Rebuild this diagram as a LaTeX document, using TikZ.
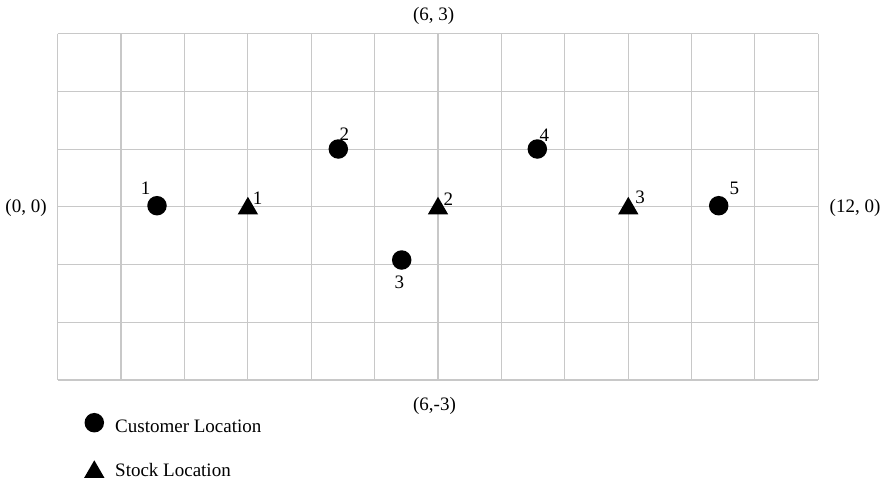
\documentclass[tikz,border=0pt]{standalone}
\usepackage{fontspec}
\setmainfont{Liberation Serif}
\usetikzlibrary{shapes.geometric}
\begin{document}
\begin{tikzpicture}[x=1pt,y=-1pt,
  every node/.style={font=\fontsize{19}{22}\selectfont, inner sep=0pt},
  gridline/.style={draw={rgb,255:red,200;green,200;blue,200}, line width=1.2pt},
  cust/.style={circle, fill=black, minimum size=19.5pt, inner sep=0pt},
  stock/.style={regular polygon, regular polygon sides=3, fill=black, minimum size=23.5pt, inner sep=0pt},
  lab/.style={inner sep=0pt}]
\useasboundingbox (0,0) rectangle (886,480);
% grid
\foreach \i in {0,...,12} {
  \draw[gridline] ({57.7+63.38*\i},33.7) -- ({57.7+63.38*\i},380);
}
\foreach \j in {0,...,6} {
  \draw[gridline] (57.7,{33.7+57.72*\j}) -- (818.3,{33.7+57.72*\j});
}
% axis labels
\node (top) at (433.7,16) {(6, 3)};
\node (bot) at (434.5,405.5) {(6,-3)};
\node (left) at (26,207.5) {(0, 0)};
\node (right) at (855,207.5) {(12, 0)};
% customers
\node[cust] (c1) at (157,205.7) {};
\node[cust] (c2) at (338.3,149) {};
\node[cust] (c3) at (401.7,260) {};
\node[cust] (c4) at (537.3,149) {};
\node[cust] (c5) at (718.7,205.7) {};
% stocks
\node[stock] (s1) at (247.9,208.5) {};
\node[stock] (s2) at (438,208.5) {};
\node[stock] (s3) at (628.3,208.5) {};
% labels
\node[lab] (c1l) at (145.7,188) {1};
\node[lab] (c2l) at (344.3,134) {2};
\node[lab] (c3l) at (399.3,282.7) {3};
\node[lab] (c4l) at (544.3,135) {4};
\node[lab] (c5l) at (734.3,188.3) {5};
\node[lab] (s1l) at (257.7,198) {1};
\node[lab] (s2l) at (448.3,199) {2};
\node[lab] (s3l) at (640,197.7) {3};
% legend
\node[cust] (legc) at (94.3,422.7) {};
\node[anchor=west] (legct) at (115,426.5) {Customer Location};
\node[stock] (legs) at (94.3,472) {};
\node[anchor=west] (legst) at (115,469.5) {Stock Location};
\end{tikzpicture}
\end{document}
